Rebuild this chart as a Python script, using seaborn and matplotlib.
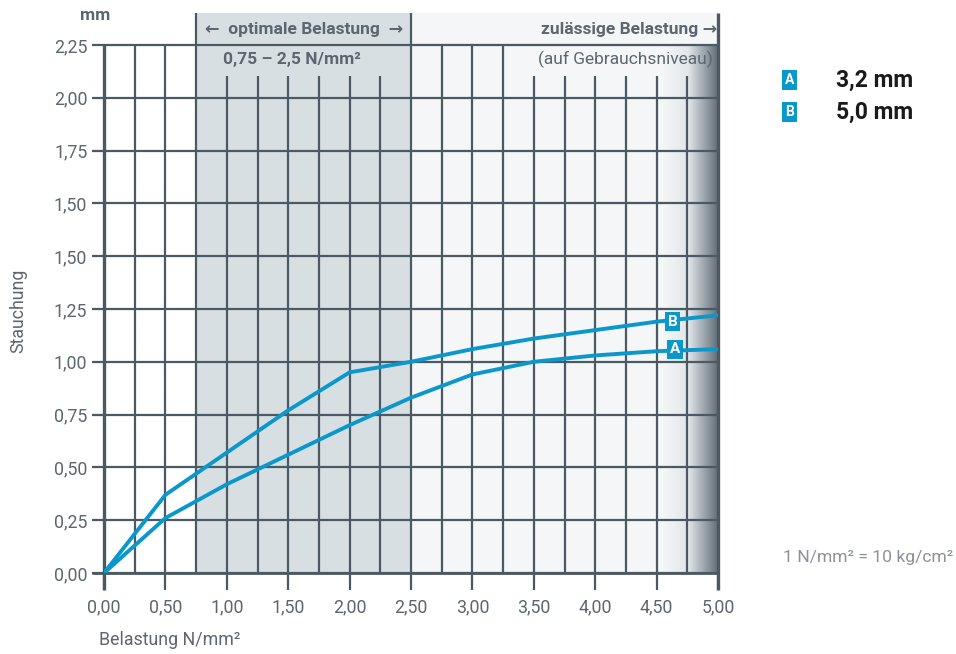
import matplotlib.pyplot as plt
import matplotlib.colors as mcolors
import seaborn as sns
import pandas as pd
import numpy as np

# --- data ---
belastung = [0.0, 0.5, 1.0, 1.5, 2.0, 2.5, 3.0, 3.5, 4.0, 4.5, 5.0]
stauchung_a = [0.0, 0.26, 0.42, 0.56, 0.70, 0.83, 0.94, 1.00, 1.03, 1.05, 1.06]
stauchung_b = [0.0, 0.37, 0.57, 0.77, 0.95, 1.00, 1.06, 1.11, 1.15, 1.19, 1.22]

y_ticks = [0.0, 0.25, 0.5, 0.75, 1.0, 1.25, 1.5, 1.75, 2.0, 2.25, 2.5]
y_tick_labels = ["0,00", "0,25", "0,50", "0,75", "1,00", "1,25", "1,50", "1,50", "1,75", "2,00", "2,25"]
x_ticks = [0.0, 0.5, 1.0, 1.5, 2.0, 2.5, 3.0, 3.5, 4.0, 4.5, 5.0]
x_tick_labels = ["0,00", "0,50", "1,00", "1,50", "2,00", "2,50", "3,00", "3,50", "4,00", "4,50", "5,00"]

legend_keys = ["A", "B"]
legend_texts = ["3,2 mm", "5,0 mm"]

BLUE = "#0a97cc"
GRID = "#4b5963"
TEXT = "#5c6670"

sns.set_theme(style="white")
plt.rcParams['font.family'] = ['Roboto', 'DejaVu Sans']

df = pd.DataFrame({
    "x": belastung * 2,
    "y": stauchung_a + stauchung_b,
    "serie": ["A"] * len(belastung) + ["B"] * len(belastung),
})

fig = plt.figure(figsize=(9.56, 6.54), dpi=100)
ax = fig.add_axes([0.1088, 0.1239, 0.6423, 0.8073])
ax.set_xlim(0, 5)
ax.set_ylim(0, 2.5)
ytop = 2.65   # header band above the plot

# background zones
ax.add_patch(plt.Rectangle((0.75, 0), 1.75, ytop, facecolor="#d8dfe3", edgecolor="none",
                           clip_on=False, zorder=0))
ax.add_patch(plt.Rectangle((2.5, 0), 2.5, ytop, facecolor="#f4f6f7", edgecolor="none",
                           clip_on=False, zorder=0))
grad_cmap = mcolors.LinearSegmentedColormap.from_list(
    "g", [(0, "#f4f6f7"), (0.45, "#e3e7ea"), (0.55, "#c9d0d5"), (1.0, "#5f6b74")])
ax.imshow(np.linspace(0, 1, 200)[None, :], extent=(4.55, 5.0, 0, 2.5), aspect="auto",
          cmap=grad_cmap, zorder=0.5, interpolation="bilinear")

# grid lines
for gx in np.arange(0.25, 5.0, 0.25):
    if abs(gx - 0.75) < 1e-6 or abs(gx - 2.5) < 1e-6:
        top = ytop
    elif 0.75 < gx < 2.5 or gx >= 3.5:
        top = 2.355
    else:
        top = 2.5
    ax.plot([gx, gx], [0, top], color=GRID, lw=1.6, zorder=1, clip_on=False,
            solid_capstyle="butt")
for gx in x_ticks:
    ax.plot([gx, gx], [-0.08, 0], color=GRID, lw=1.6, zorder=1, clip_on=False,
            solid_capstyle="butt")
for gy in y_ticks:
    ax.plot([-0.1, 5.0], [gy, gy], color=GRID, lw=1.6, zorder=1, clip_on=False,
            solid_capstyle="butt")
ax.plot([0, 0], [-0.08, 2.5], color=GRID, lw=2.4, zorder=1.2, clip_on=False,
        solid_capstyle="butt")
ax.plot([5, 5], [-0.08, ytop], color=GRID, lw=2.4, zorder=1.2, clip_on=False,
        solid_capstyle="butt")
ax.plot([-0.1, 5.0], [0, 0], color=GRID, lw=2.0, zorder=1.2, clip_on=False,
        solid_capstyle="butt")

sns.lineplot(data=df, x="x", y="y", hue="serie", palette={"A": BLUE, "B": BLUE},
             legend=False, lw=2.8, ax=ax, zorder=3)

for s in ax.spines.values():
    s.set_visible(False)
ax.set_xticks(x_ticks)
ax.set_xticklabels(x_tick_labels)
ax.set_yticks(y_ticks)
ax.set_yticklabels(y_tick_labels)
ax.tick_params(length=0, labelsize=12.8, labelcolor=TEXT)
ax.tick_params(axis="x", pad=18)
ax.tick_params(axis="y", pad=12)
ax.set_xlabel("")
ax.set_ylabel("")

# curve labels
box = dict(boxstyle="square,pad=0.16", facecolor=BLUE, edgecolor="none")
ax.text(4.63, 1.19, "B", color="white", fontsize=11, fontweight="bold",
        ha="center", va="center", bbox=box, zorder=4)
ax.text(4.65, 1.06, "A", color="white", fontsize=11, fontweight="bold",
        ha="center", va="center", bbox=box, zorder=4)

# header texts
ax.text(1.625, 2.572, "\u2190  optimale Belastung  \u2192", ha="center", va="center",
        fontsize=12.5, fontweight="bold", color=TEXT)
ax.text(1.53, 2.43, "0,75 \u2013 2,5 N/mm\u00b2", ha="center", va="center",
        fontsize=12.5, fontweight="bold", color=TEXT)
ax.text(4.99, 2.572, "zul\u00e4ssige Belastung \u2192", ha="right", va="center",
        fontsize=12.5, fontweight="bold", color=TEXT)
ax.text(4.96, 2.43, "(auf Gebrauchsniveau)", ha="right", va="center",
        fontsize=12.5, color=TEXT)

# axis titles and notes
fig.text(0.1, 0.976, "mm", ha="center", va="center", fontsize=12.5,
         fontweight="bold", color=TEXT)
fig.text(0.019, 0.525, "Stauchung", rotation=90, ha="center", va="center",
         fontsize=12.8, color=TEXT)
fig.text(0.104, 0.021, "Belastung N/mm\u00b2", ha="left", va="center",
         fontsize=12.8, color=TEXT)
fig.text(0.997, 0.147, "1 N/mm\u00b2 = 10 kg/cm\u00b2", ha="right", va="center",
         fontsize=12.6, color="#8a9299")

# legend
leg_y = [0.878, 0.829]
for key, txt, yy in zip(legend_keys, legend_texts, leg_y):
    fig.text(0.826, yy, key, ha="center", va="center", fontsize=10, fontweight="bold",
             color="white", bbox=dict(boxstyle="square,pad=0.2", facecolor=BLUE,
                                      edgecolor="none"))
    fig.text(0.874, yy, txt, ha="left", va="center", fontsize=16.5,
             fontweight="bold", color="#1a1a1a")

fig.savefig("out.png", dpi=100)
